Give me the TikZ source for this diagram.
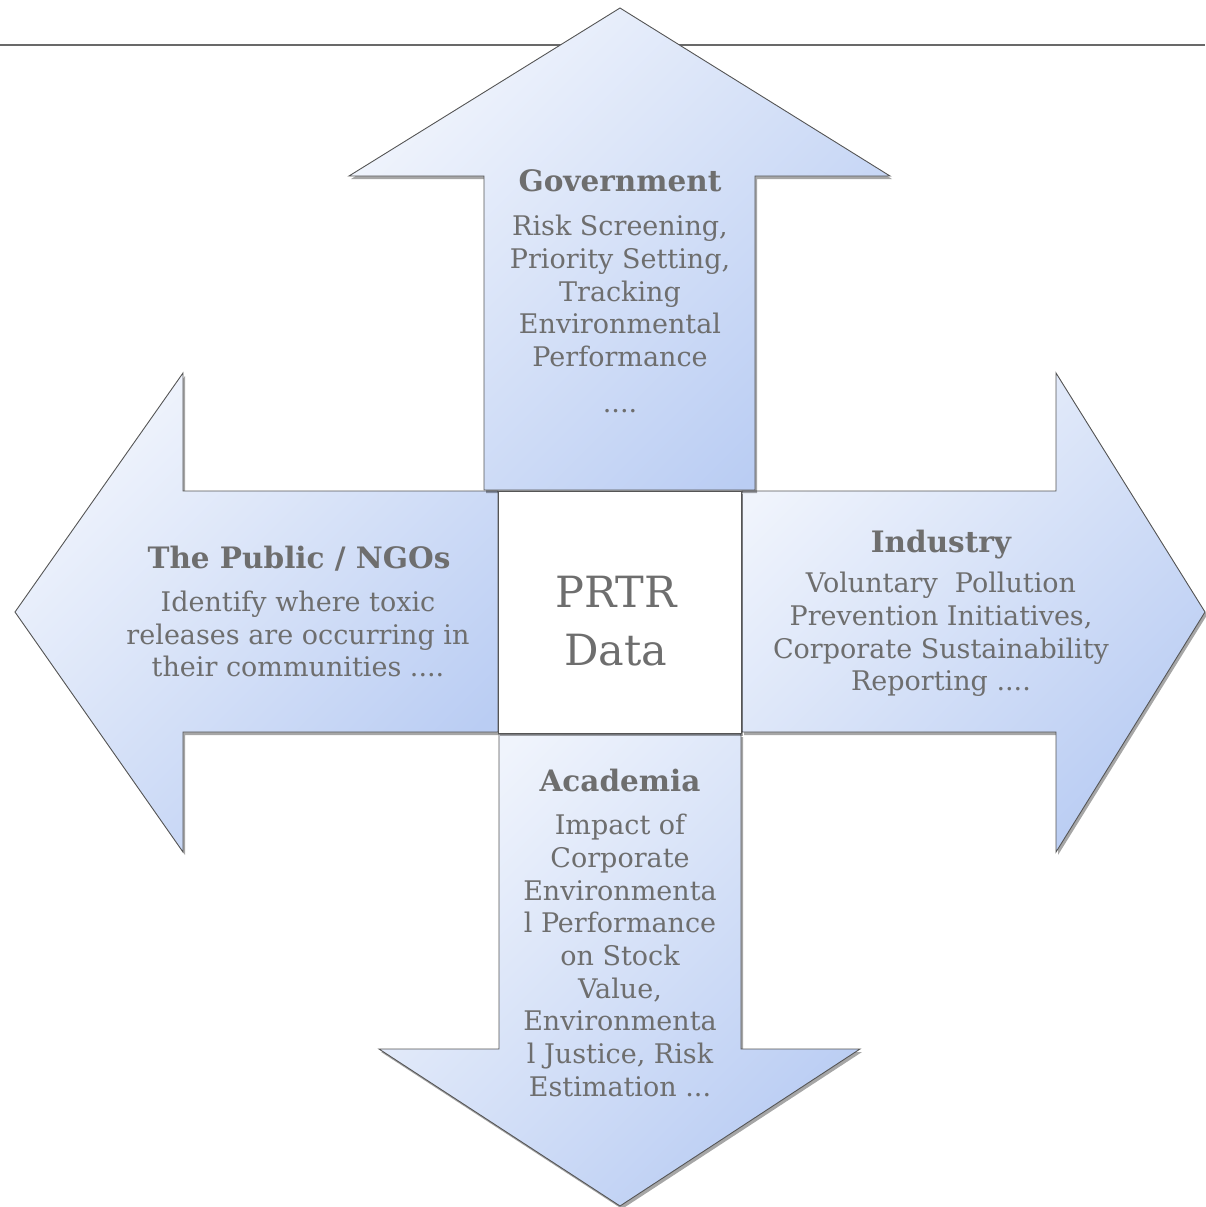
\documentclass[tikz,border=0pt]{standalone}
\usepackage{fontspec}
\setmainfont{DejaVu Serif}
\usetikzlibrary{shadows}
\definecolor{txtgray}{RGB}{110,110,110}
\definecolor{arrowlight}{RGB}{240,244,252}
\definecolor{arrowdark}{RGB}{186,205,243}
\definecolor{edgegray}{RGB}{85,85,85}
\definecolor{rulegray}{RGB}{105,105,105}
\begin{document}
\begin{tikzpicture}[x=1pt,y=-1pt,
  arrowshape/.style={draw=edgegray, line width=0.9pt, top color=arrowlight, bottom color=arrowdark, shading angle=45,
    drop shadow={shadow xshift=2pt, shadow yshift=-3pt, opacity=0.35, fill=black}},
  centerbox/.style={draw=edgegray, line width=0.9pt, fill=white,
    drop shadow={shadow xshift=2pt, shadow yshift=-3pt, opacity=0.35, fill=black}},
  titletext/.style={text=txtgray, font=\fontsize{29.5}{32.7}\selectfont\bfseries, inner sep=0pt},
  bodytext/.style={text=txtgray, align=center, font=\fontsize{27}{32.7}\selectfont, inner sep=0pt},
  bigtext/.style={text=txtgray, align=center, font=\fontsize{43}{58}\selectfont, inner sep=0pt}]
\useasboundingbox (0,0) rectangle (1205,1207);
% top rule
\coordinate (ruleL) at (0,45);
\coordinate (ruleR) at (1205,45);
\draw[rulegray, line width=1.5pt] (ruleL) -- (ruleR);
% left arrow
\path[arrowshape] (498,491) -- (183,491) -- (183,373) -- (15,612) -- (183,852) -- (183,732) -- (498,732) -- cycle;
% right arrow
\path[arrowshape] (742,491) -- (1056,491) -- (1056,373) -- (1205,612) -- (1056,852) -- (1056,732) -- (742,732) -- cycle;
% bottom arrow
\path[arrowshape] (499,734) -- (741,734) -- (741,1049) -- (860,1049) -- (620,1206) -- (379,1049) -- (499,1049) -- cycle;
% top arrow
\path[arrowshape] (484,490) -- (484,176) -- (349,176) -- (620,8) -- (890,176) -- (755,176) -- (755,490) -- cycle;
% center box
\path[centerbox] (498,491) rectangle (741,733);
% texts
\node[bigtext] (prtr) at (616,621) {PRTR\\Data};
\node[titletext, anchor=base] (govtitle) at (620,191) {Government};
\node[bodytext] (govbody) at (620,291) {Risk Screening,\\Priority Setting,\\Tracking\\Environmental\\Performance};
\node[bodytext, anchor=base] (govdots) at (620,412) {....};
\node[titletext, anchor=base] (pubtitle) at (299,568) {The Public / NGOs};
\node[bodytext] (pubbody) at (298,634) {Identify where toxic\\releases are occurring in\\their communities ....};
\node[titletext, anchor=base] (indtitle) at (941,552) {Industry};
\node[bodytext] (indbody) at (941,634.5) {Voluntary~~Pollution\\Prevention Initiatives,\\Corporate Sustainability\\Reporting ....};
\node[titletext, anchor=base] (acatitle) at (620,791) {Academia};
\node[bodytext] (acabody) at (620,955.5) {Impact of\\Corporate\\Environmenta\\l Performance\\on Stock\\Value,\\Environmenta\\l Justice, Risk\\Estimation ...};
\end{tikzpicture}
\end{document}
